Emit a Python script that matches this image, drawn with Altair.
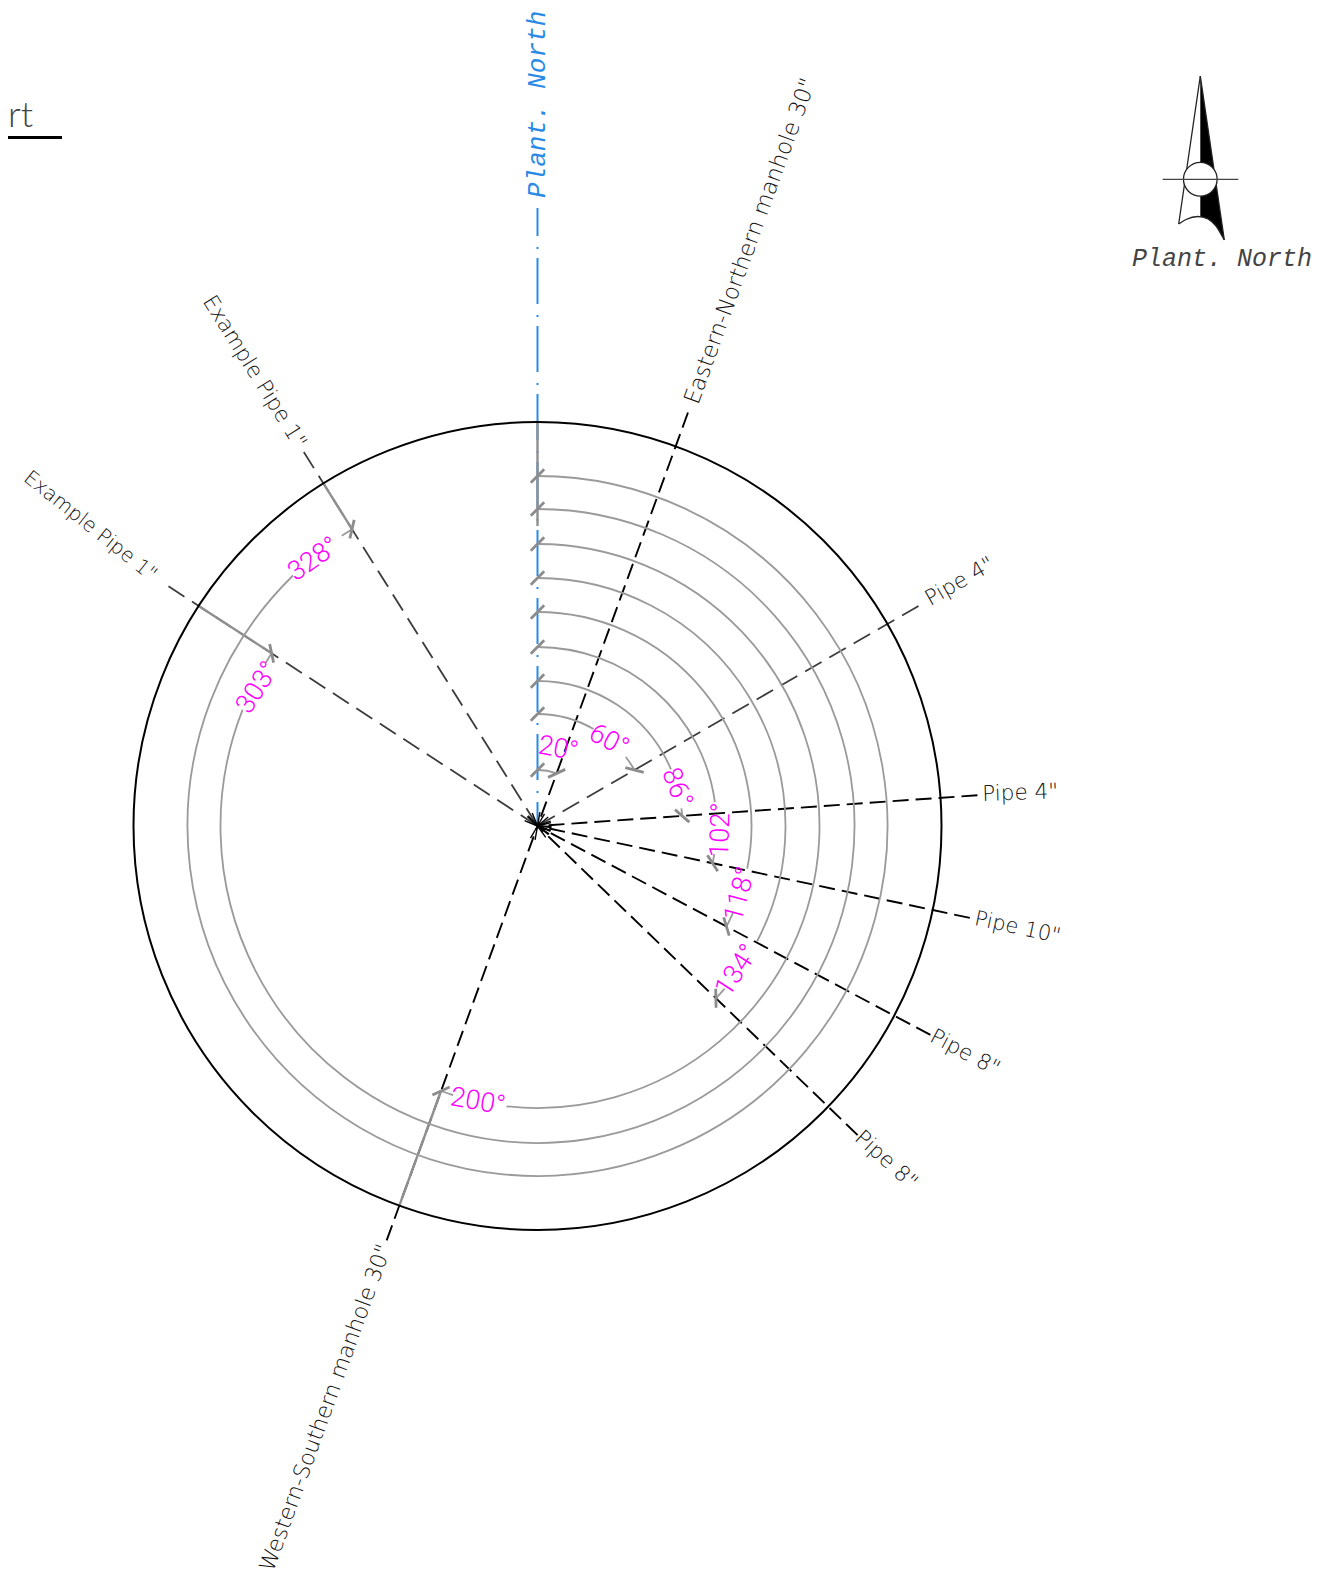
import math
import altair as alt
import pandas as pd

# Drawing centre and overall geometry (page pixel units)
CX, CY = 537.5, 826.0
R_OUT = 404
PLOT_W, PLOT_H = 1307, 1571

# Pipe rays: bearing clockwise from plant north
bearings = [20, 60, 86, 102, 118, 134, 200, 303, 328]
ray_ends = [440, 440, 441, 442, 445, 445, 441, 440, 441]
ray_names = ['Eastern-Northern manhole 30"', 'Pipe 4"', 'Pipe 4"', 'Pipe 10"', 'Pipe 8"',
             'Pipe 8"', 'Western-Southern manhole 30"', 'Example Pipe 1"', 'Example Pipe 1"']
ray_style = ["a", "b", "a", "a", "a", "a", "a", "b", "b"]
label_start = [450, 450, 446, 447, 446, 445, 446, 457, 447]
label_size = [22.5, 21.5, 21.5, 21, 21.5, 21.5, 22, 20, 21.5]
label_rot = [-70, -30, -2, 12, 28, 42, -70, 38.5, 58]

# Dimension arcs
dim_radius = [56, 112, 145, 179, 214, 248, 282, 317, 350]
gap_start = [20, 30, 67, 82.3, 101.5, 117.7, 186.3, 291.5, 315.7]
gap_end = [20, 52, 83, 99, 113.6, 131, 197.4, 301, 326]
dim_text = ["20°", "60°", "86°", "102°", "118°", "134°", "200°", "303°", "328°"]
text_r = [79.8, 111, 144.3, 183.5, 214, 246.5, 282.3, 312, 348]
text_theta = [15.1, 39.9, 74.7, 91.3, 108.6, 125.9, 192.2, 296.3, 320]
text_rot = [10, 28, 68, -88, -75, -57, 10, -57, -35]

# North arrow
arrow_tip = (1200.3, 76)
arrow_left_foot = (1178.7, 224)
arrow_right_foot = (1224.3, 240)
curve_x = [1178.7, 1186, 1198, 1208, 1216, 1224.3]
curve_y = [224, 219.5, 216.5, 219, 226, 240]
fill_x = [1200.3, 1208, 1216, 1224.3]
fill_top = [76, 128.6, 183.2, 240]
fill_bot = [216.5, 219, 226, 240]
arrow_hub = (1200.3, 179.3)
arrow_bar = (1162.7, 1238.3)


def px(r, deg):
    return CX + r * math.sin(math.radians(deg)), CY - r * math.cos(math.radians(deg))


sx = alt.Scale(domain=[8, 8 + PLOT_W], nice=False, zero=False)
sy = alt.Scale(domain=[8, 8 + PLOT_H], reverse=True, nice=False, zero=False)
X = alt.X("x:Q", scale=sx, axis=None)
Y = alt.Y("y:Q", scale=sy, axis=None)
X2 = alt.X2("x2:Q")
Y2 = alt.Y2("y2:Q")


def rules(rows, **mark):
    return alt.Chart(pd.DataFrame(rows)).mark_rule(**mark).encode(x=X, y=Y, x2=X2, y2=Y2)


def seg(p, q):
    return {"x": p[0], "y": p[1], "x2": q[0], "y2": q[1]}


layers = []

# Blue plant-north centre line
layers.append(rules([seg((CX, 208), (CX, CY))], color="#2a8ae6", strokeWidth=2,
                    strokeDash=[46, 11, 2, 9], strokeDashOffset=18))

# Pipe rays
for style, color, dash, width in [("a", "#000000", [16, 7], 1.9), ("b", "#3c3c3c", [19, 9], 1.8)]:
    rows = [seg(px(r, b), (CX, CY)) for b, r, s in zip(bearings, ray_ends, ray_style) if s == style]
    layers.append(rules(rows, color=color, strokeWidth=width, strokeDash=dash))

# Barbs at the centre
barbs = []
for b in bearings:
    barbs.append(seg((CX, CY), px(14, b - 10)))
    barbs.append(seg((CX, CY), px(14, b + 10)))
layers.append(rules(barbs, color="#000000", strokeWidth=1.4))

# Grey extension lines
ext = [seg(px(dim_radius[i], bearings[i]), px(R_OUT, bearings[i])) for i in (6, 7, 8)]
ext.append(seg(px(300, 0), px(R_OUT, 0)))
layers.append(rules(ext, color="#8f8f8f", strokeWidth=2.4))

# Outer circle and dimension arcs
arcs = [{"x": CX, "y": CY, "r": R_OUT, "t0": 0, "t1": 2 * math.pi, "k": "outer"}]
for b, r, g0, g1 in zip(bearings, dim_radius, gap_start, gap_end):
    arcs.append({"x": CX, "y": CY, "r": r, "t0": 0, "t1": math.radians(g0), "k": "dim"})
    if g1 < b:
        arcs.append({"x": CX, "y": CY, "r": r, "t0": math.radians(g1), "t1": math.radians(b), "k": "dim"})
arc_df = pd.DataFrame(arcs)
for k, color, width in [("dim", "#9a9a9a", 1.8), ("outer", "#000000", 2)]:
    layers.append(
        alt.Chart(arc_df[arc_df.k == k]).mark_arc(filled=False, stroke=color, strokeWidth=width).encode(
            x=X, y=Y,
            radius=alt.Radius("r:Q", scale=None),
            radius2=alt.Radius2("r:Q"),
            theta=alt.Theta("t0:Q", scale=None),
            theta2=alt.Theta2("t1:Q"),
        )
    )

# Slash ticks at both ends of every dimension arc
ticks = []
for b, r in zip(bearings, dim_radius):
    for a in (0, b):
        c = px(r, a)
        d = (9.5 * math.sin(math.radians(a + 45)), -9.5 * math.cos(math.radians(a + 45)))
        ticks.append(seg((c[0] - d[0], c[1] - d[1]), (c[0] + d[0], c[1] + d[1])))
layers.append(rules(ticks, color="#8c8c8c", strokeWidth=2.8))

# Dimension values
rows = []
for t, r, th, rot in zip(dim_text, text_r, text_theta, text_rot):
    p = px(r, th)
    rows.append({"x": p[0], "y": p[1], "t": t, "a": (rot + 360) % 360})
layers.append(
    alt.Chart(pd.DataFrame(rows)).mark_text(
        color="#ff00ff", font="Roboto", fontSize=27, fontWeight=300, align="center", baseline="middle"
    ).encode(x=X, y=Y, text="t:N", angle=alt.Angle("a:Q", scale=None))
)

# Pipe labels
rows = {"left": [], "right": []}
for b, n, s, z, rot in zip(bearings, ray_names, label_start, label_size, label_rot):
    p = px(s, b)
    side = "left" if b < 180 else "right"
    rows[side].append({"x": p[0], "y": p[1], "t": n, "a": (rot + 360) % 360, "z": z})
for al, rr in rows.items():
    layers.append(
        alt.Chart(pd.DataFrame(rr)).mark_text(
            color="#111111", font="DejaVu Sans", fontWeight=200, align=al, baseline="middle"
        ).encode(x=X, y=Y, text="t:N", angle=alt.Angle("a:Q", scale=None), size=alt.Size("z:Q", scale=None))
    )

# Plant north labels
layers.append(
    alt.Chart(pd.DataFrame([{"x": 545, "y": 198, "t": "Plant. North", "a": 270}])).mark_text(
        color="#2a8ae6", font="Liberation Mono", fontStyle="italic", fontSize=26, align="left", baseline="alphabetic"
    ).encode(x=X, y=Y, text="t:N", angle=alt.Angle("a:Q", scale=None))
)
layers.append(
    alt.Chart(pd.DataFrame([{"x": 1132, "y": 266, "t": "Plant. North"}])).mark_text(
        color="#444444", font="Liberation Mono", fontStyle="italic", fontSize=25, align="left", baseline="alphabetic"
    ).encode(x=X, y=Y, text="t:N")
)

# North arrow
layers.append(
    alt.Chart(pd.DataFrame({"x": fill_x, "y": fill_top, "y2": fill_bot})).mark_area(color="#000000").encode(
        x=X, y=Y, y2=Y2
    )
)
layers.append(rules([seg(arrow_tip, arrow_left_foot), seg(arrow_tip, arrow_right_foot)],
                    color="#222222", strokeWidth=1.3))
layers.append(
    alt.Chart(pd.DataFrame({"x": curve_x, "y": curve_y, "o": range(len(curve_x))})).mark_line(
        color="#222222", strokeWidth=1.3, interpolate="monotone"
    ).encode(x=X, y=Y, order="o:Q")
)
layers.append(
    alt.Chart(pd.DataFrame([{"x": arrow_hub[0], "y": arrow_hub[1]}])).mark_point(
        shape="circle", size=1134, filled=True, fill="#ffffff", stroke="#222222", strokeWidth=1.3, opacity=1
    ).encode(x=X, y=Y)
)
layers.append(rules([seg((arrow_bar[0], arrow_hub[1]), (arrow_bar[1], arrow_hub[1]))],
                    color="#444444", strokeWidth=1.3))

# Clipped title fragment, top left
layers.append(rules([seg((8, 137.5), (62, 137.5))], color="#000000", strokeWidth=3))
layers.append(
    alt.Chart(pd.DataFrame([{"x": 33, "y": 127, "t": "rt"}])).mark_text(
        color="#444444", font="Lato", fontSize=36, fontWeight=300, align="right", baseline="alphabetic"
    ).encode(x=X, y=Y, text="t:N")
)

chart = alt.layer(*layers).properties(
    width=PLOT_W, height=PLOT_H, padding=0, background="#ffffff",
    autosize=alt.AutoSizeParams(type="none"),
).configure_view(stroke=None)
chart.save("out.html", embed_options={"renderer": "svg", "actions": False})
